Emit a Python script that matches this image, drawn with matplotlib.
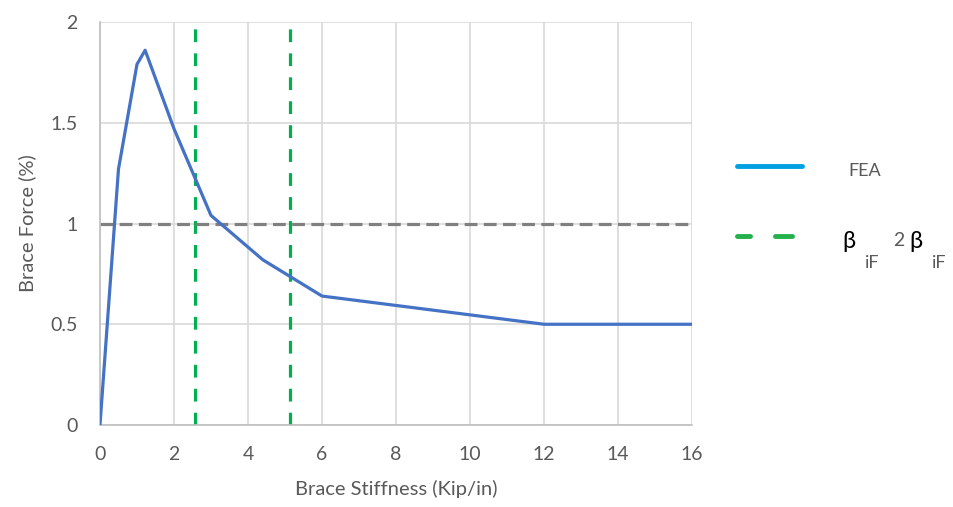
import matplotlib
matplotlib.use("Agg")
import matplotlib.pyplot as plt
from matplotlib.lines import Line2D

# data
stiffness = [0, 0.5, 1.0, 1.22, 2.0, 3.0, 4.4, 6.0, 12.0, 16.0]
brace_force = [0, 1.27, 1.79, 1.86, 1.47, 1.04, 0.82, 0.64, 0.50, 0.50]
beta_if = [2.57, 5.14]
limit = 1.0

xticks = list(range(0, 17, 2))
yticks = [0, 0.5, 1, 1.5, 2]
ytick_labels = ["0", "0.5", "1", "1.5", "2"]

plt.rcParams['font.family'] = ['Lato', 'DejaVu Sans']
txt = '#595959'
grid = '#D9D9D9'

fig = plt.figure(figsize=(9.54, 5.07), dpi=100)
ax = fig.add_axes([0.1048, 0.1617, 0.6206, 0.7949])

ax.plot(stiffness, brace_force, color='#4472C4', lw=2.3, zorder=3)
for b in beta_if:
    ax.axvline(b, color='#00B050', lw=2.3, dashes=(4, 3.5), zorder=2)
ax.axhline(limit, color='#808080', lw=2.3, dashes=(4, 2), zorder=2)

ax.set_xlim(0, 16)
ax.set_ylim(0, 2)
ax.set_xticks(xticks)
ax.set_yticks(yticks)
ax.set_yticklabels(ytick_labels)
ax.grid(True, color=grid, lw=1.2)
ax.set_axisbelow(True)
for s in ['top', 'right']:
    ax.spines[s].set_visible(False)
for s in ['left', 'bottom']:
    ax.spines[s].set_color('#BFBFBF')
    ax.spines[s].set_linewidth(1.2)
ax.tick_params(length=0, labelsize=14, labelcolor=txt)
ax.tick_params(axis='x', pad=15)
ax.tick_params(axis='y', pad=16)
ax.set_xlabel("Brace Stiffness (Kip/in)", fontsize=14.5, color=txt, labelpad=12)
ax.set_ylabel("Brace Force (%)", fontsize=14.5, color=txt, labelpad=10)

# legend drawn by hand in figure coordinates
def fx(px):
    return px / 954

def fy(py):
    return 1 - py / 507

fig.add_artist(Line2D([fx(737), fx(802)], [fy(166), fy(166)], color='#00A0E3', lw=3.5,
                      solid_capstyle='round'))
fig.add_artist(Line2D([fx(737), fx(750)], [fy(236), fy(236)], color='#22B14C', lw=3.5,
                      solid_capstyle='round'))
fig.add_artist(Line2D([fx(775), fx(792)], [fy(236), fy(236)], color='#22B14C', lw=3.5,
                      solid_capstyle='round'))
fig.text(fx(848), fy(171), "FEA", fontsize=13, color=txt, va='center')
fig.text(fx(842), fy(241), "β", fontsize=17, color='black', va='center')
fig.text(fx(865), fy(263), "iF", fontsize=13, color=txt, va='center')
fig.text(fx(893), fy(240), "2", fontsize=14, color=txt, va='center')
fig.text(fx(909), fy(241), "β", fontsize=17, color='black', va='center')
fig.text(fx(932), fy(263), "iF", fontsize=13, color=txt, va='center')

fig.savefig("out.png", dpi=100)
